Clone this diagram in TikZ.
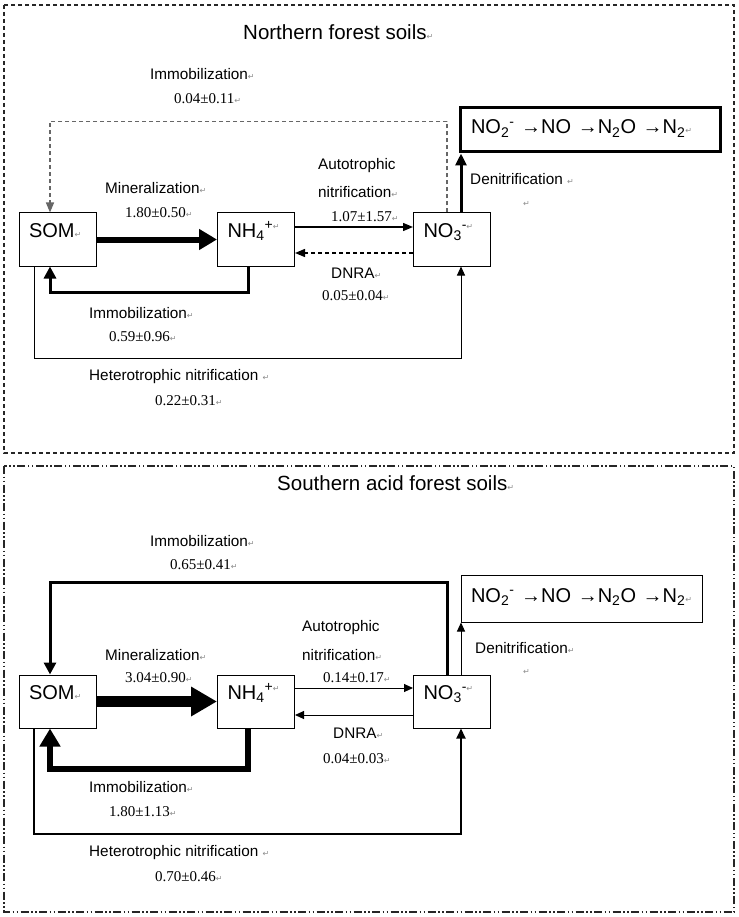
\documentclass[tikz,border=0pt]{standalone}
\usepackage{fontspec}
\setmainfont{Liberation Sans}
\newfontfamily\numfont{Liberation Serif}
\newfontfamily\dejavu{DejaVu Sans}
\usetikzlibrary{arrows.meta}
\newcommand\pmark{{\dejavu\color{black!45}\fontsize{8}{8}\selectfont ↵}}
\begin{document}
\begin{tikzpicture}[x=1pt,y=-1pt,
 lab/.style={anchor=west,inner sep=0pt,font=\fontsize{15.3}{18}\selectfont},
 num/.style={anchor=west,inner sep=0pt,font=\numfont\fontsize{15}{18}\selectfont},
 ttl/.style={anchor=west,inner sep=0pt,font=\fontsize{20.5}{24}\selectfont},
 pool/.style={draw,line width=1pt,minimum width=77pt,minimum height=53pt,inner xsep=10pt,inner ysep=0pt,text width=57pt,align=left,text height=10pt,text depth=14pt,font=\fontsize{20}{24}\selectfont},
 prod/.style={draw,inner xsep=11pt,inner ysep=0pt,align=left,text height=14pt,text depth=6pt,font=\fontsize{20}{24}\selectfont},
 thin/.style={line width=1pt,-{Triangle[length=9pt,width=8pt]}},
 med/.style={line width=3pt,-{Triangle[length=12pt,width=12pt]}},
 frameA/.style={line width=1.2pt,black!85,dash pattern=on 4pt off 3pt},
 frameB/.style={line width=1.2pt,black!85,dash pattern=on 8pt off 2.5pt on 1.5pt off 2.5pt on 1.5pt off 2.5pt},
]
\useasboundingbox (0,0) rectangle (738,917);
\fill[white] (0,0) rectangle (738,917);

% ---------- frames ----------
\draw[frameA] (4,5) rectangle (734,453);
\draw[frameB] (4,466) rectangle (734,912);

% ================= Northern =================
\node[ttl] (t1) at (243,32) {Northern forest soils\pmark};

\node[pool] (som1) at (57.5,239.5) {SOM\pmark};
\node[pool] (nh41) at (256,239.5) {NH\textsubscript{4}\textsuperscript{+\pmark}};
\node[pool] (no31) at (452,239.5) {NO\textsubscript{3}\textsuperscript{-\pmark}};
\node[prod,line width=3pt,minimum width=260pt,minimum height=44pt,text width=238pt] (den1) at (590,130) {\mbox{NO\textsubscript{2}\textsuperscript{-} →NO →N\textsubscript{2}O →N\textsubscript{2}\pmark}};

% mineralization
\draw[line width=6pt,-{Triangle[length=18pt,width=20pt]}] (som1.east) -- (nh41.west);
% autotrophic nitrification
\draw[line width=1.3pt,-{Triangle[length=10pt,width=8pt]}] ([yshift=12.5pt]nh41.east) -- ([yshift=12.5pt]no31.west);
% DNRA (dashed)
\draw[line width=1.3pt,dash pattern=on 4pt off 3pt,-{Triangle[length=10pt,width=8pt]}] ([yshift=-13.5pt]no31.west) -- ([yshift=-13.5pt]nh41.east);
% immobilization (NH4 -> SOM)
\draw[med] ([xshift=-8pt]nh41.south) -- ++(0,26) -| ([xshift=-7.5pt]som1.south);
% heterotrophic nitrification
\draw[thin] ([xshift=-23.5pt]som1.south) -- ++(0,92) -| ([xshift=9pt]no31.south);
% immobilization NO3 -> SOM (dashed, gray)
\draw[line width=1.3pt,black!60,dash pattern=on 4pt off 3pt,-{Triangle[length=10pt,width=8pt]}] ([xshift=-5pt]no31.north) -- ++(0,-91) -| ([xshift=-7.5pt]som1.north);
% denitrification
\coordinate (d1) at ([xshift=9pt]no31.north);
\draw[line width=3pt,-{Triangle[length=12pt,width=11pt]}] (d1) -- (d1 |- den1.south);

\node[lab] (a1) at (150,74) {Immobilization\pmark};
\node[num] (a2) at (174,99) {0.04±0.11\pmark};
\node[lab] (a3) at (105,188) {Mineralization\pmark};
\node[num] (a4) at (125,213) {1.80±0.50\pmark};
\node[lab] (a5) at (318,166) {Autotrophic};
\node[lab] (a6) at (318,192) {nitrification\pmark};
\node[num] (a7) at (331,217) {1.07±1.57\pmark};
\node[lab] (a8) at (470,179) {Denitrification \pmark};
\node[lab] (a9) at (523,204) {\pmark};
\node[lab] (a10) at (331,273) {DNRA\pmark};
\node[num] (a11) at (322,296) {0.05±0.04\pmark};
\node[lab] (a12) at (89,313) {Immobilization\pmark};
\node[num] (a13) at (109,337) {0.59±0.96\pmark};
\node[lab] (a14) at (89,377) {Heterotrophic nitrification \pmark};
\node[num] (a15) at (155,401) {0.22±0.31\pmark};

% ================= Southern =================
\node[ttl] (t2) at (277,483) {Southern acid forest soils\pmark};

\node[pool] (som2) at (57.5,701.5) {SOM\pmark};
\node[pool] (nh42) at (256,701.5) {NH\textsubscript{4}\textsuperscript{+\pmark}};
\node[pool] (no32) at (452,701.5) {NO\textsubscript{3}\textsuperscript{-\pmark}};
\node[prod,line width=1pt,minimum width=241pt,minimum height=47pt,inner xsep=10pt,text width=221pt] (den2) at (581.5,598.5) {\mbox{NO\textsubscript{2}\textsuperscript{-} →NO →N\textsubscript{2}O →N\textsubscript{2}\pmark}};

% mineralization
\draw[line width=11pt,-{Triangle[length=26pt,width=28pt]}] (som2.east) -- (nh42.west);
% autotrophic
\draw[thin] ([yshift=13.5pt]nh42.east) -- ([yshift=13.5pt]no32.west);
% DNRA
\draw[thin] ([yshift=-13.5pt]no32.west) -- ([yshift=-13.5pt]nh42.east);
% immobilization NH4 -> SOM
\draw[line width=6pt,-{Triangle[length=18pt,width=20pt]}] ([xshift=-8pt]nh42.south) -- ++(0,40) -| ([xshift=-7.5pt]som2.south);
% heterotrophic nitrification
\draw[line width=2pt,-{Triangle[length=10pt,width=9pt]}] ([xshift=-23.5pt]som2.south) -- ++(0,105) -| ([xshift=9pt]no32.south);
% immobilization NO3 -> SOM
\draw[med] ([xshift=-5pt]no32.north) -- ++(0,-92) -| ([xshift=-7.5pt]som2.north);
% denitrification
\coordinate (d2) at ([xshift=9pt]no32.north);
\draw[thin] (d2) -- (d2 |- den2.south);

\node[lab] (b1) at (150,541) {Immobilization\pmark};
\node[num] (b2) at (170,565) {0.65±0.41\pmark};
\node[lab] (b3) at (105,655) {Mineralization\pmark};
\node[num] (b4) at (125,678) {3.04±0.90\pmark};
\node[lab] (b5) at (302,628) {Autotrophic};
\node[lab] (b6) at (302,655) {nitrification\pmark};
\node[num] (b7) at (323,678) {0.14±0.17\pmark};
\node[lab] (b8) at (475,648) {Denitrification\pmark};
\node[lab] (b9) at (523,672) {\pmark};
\node[lab] (b10) at (333,733) {DNRA\pmark};
\node[num] (b11) at (323,759) {0.04±0.03\pmark};
\node[lab] (b12) at (89,787) {Immobilization\pmark};
\node[num] (b13) at (109,812) {1.80±1.13\pmark};
\node[lab] (b14) at (89,853) {Heterotrophic nitrification \pmark};
\node[num] (b15) at (155,877) {0.70±0.46\pmark};
\end{tikzpicture}
\end{document}
